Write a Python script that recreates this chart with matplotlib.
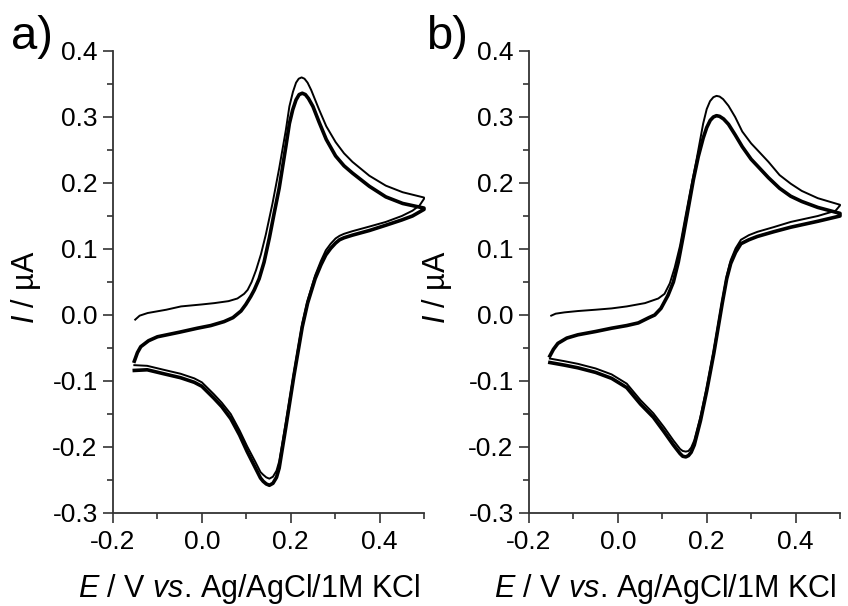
import matplotlib
matplotlib.use("Agg")
import matplotlib.pyplot as plt
import numpy as np
from matplotlib.ticker import MultipleLocator, FormatStrFormatter

plt.rcParams['font.family'] = ['Liberation Sans', 'DejaVu Sans']
plt.rcParams['mathtext.fontset'] = 'custom'
plt.rcParams['mathtext.rm'] = 'Liberation Sans'
plt.rcParams['mathtext.it'] = 'Liberation Sans:italic'
plt.rcParams['axes.unicode_minus'] = False

# ---- panel a) ----
# first cycle, forward scan (thin line)
a_E_fwd1 = [-0.150, -0.140, -0.122, -0.080, -0.047, 0.000, 0.028, 0.060, 0.080, 0.095,
            0.103, 0.112, 0.122, 0.133, 0.144, 0.159, 0.174, 0.189, 0.197, 0.205,
            0.212, 0.218, 0.2245, 0.231, 0.238, 0.246, 0.255, 0.264, 0.280, 0.301,
            0.320, 0.339, 0.377, 0.414, 0.452, 0.500]
a_I_fwd1 = [-0.007, -0.001, 0.003, 0.008, 0.013, 0.016, 0.018, 0.021, 0.025, 0.032,
            0.038, 0.050, 0.068, 0.092, 0.122, 0.169, 0.222, 0.280, 0.316, 0.338,
            0.352, 0.358, 0.360, 0.358, 0.352, 0.341, 0.326, 0.311, 0.286, 0.262,
            0.245, 0.232, 0.211, 0.196, 0.186, 0.178]
# first cycle, reverse scan
a_E_rev1 = [0.500, 0.490, 0.474, 0.450, 0.414, 0.377, 0.339, 0.320, 0.310, 0.301,
            0.290, 0.279, 0.268, 0.255, 0.238, 0.226, 0.207, 0.189, 0.174, 0.168,
            0.160, 0.152, 0.145, 0.138, 0.132, 0.120, 0.102, 0.085, 0.065, 0.045,
            0.027, 0.000, -0.017, -0.048, -0.086, -0.123, -0.152]
a_I_rev1 = [0.176, 0.166, 0.158, 0.150, 0.141, 0.134, 0.127, 0.123, 0.120, 0.116,
            0.108, 0.098, 0.082, 0.060, 0.022, -0.013, -0.088, -0.163, -0.222, -0.236,
            -0.245, -0.248, -0.246, -0.242, -0.238, -0.222, -0.199, -0.175, -0.150, -0.133,
            -0.120, -0.102, -0.096, -0.089, -0.083, -0.077, -0.076]
# following cycles, forward scan (thick line)
a_E_fwd2 = [-0.152, -0.145, -0.1375, -0.120, -0.100, -0.050, -0.010, 0.020, 0.050, 0.070,
            0.088, 0.099, 0.110, 0.118, 0.129, 0.140, 0.152, 0.163, 0.174, 0.189,
            0.197, 0.2045, 0.212, 0.219, 0.226, 0.233, 0.240, 0.250, 0.264, 0.280,
            0.301, 0.320, 0.339, 0.377, 0.414, 0.452, 0.500]
a_I_fwd2 = [-0.070, -0.057, -0.048, -0.039, -0.033, -0.026, -0.020, -0.016, -0.010, -0.004,
            0.006, 0.016, 0.028, 0.038, 0.055, 0.080, 0.117, 0.155, 0.192, 0.255,
            0.290, 0.311, 0.326, 0.334, 0.336, 0.334, 0.328, 0.316, 0.292, 0.266,
            0.241, 0.226, 0.215, 0.195, 0.179, 0.169, 0.162]
# following cycles, reverse scan
a_E_rev2 = [0.500, 0.474, 0.450, 0.414, 0.377, 0.339, 0.320, 0.310, 0.301, 0.290,
            0.279, 0.268, 0.255, 0.238, 0.226, 0.207, 0.189, 0.174, 0.168, 0.160,
            0.152, 0.145, 0.138, 0.132, 0.120, 0.102, 0.085, 0.065, 0.045, 0.027,
            0.000, -0.017, -0.048, -0.086, -0.123, -0.152]
a_I_rev2 = [0.160, 0.150, 0.144, 0.136, 0.128, 0.121, 0.117, 0.114, 0.109, 0.101,
            0.091, 0.076, 0.055, 0.018, -0.018, -0.093, -0.170, -0.232, -0.246, -0.255,
            -0.258, -0.256, -0.252, -0.247, -0.231, -0.207, -0.182, -0.157, -0.139, -0.126,
            -0.108, -0.102, -0.095, -0.089, -0.083, -0.084]

# ---- panel b) ----
b_E_fwd1 = [-0.150, -0.140, -0.120, -0.090, -0.050, -0.014, 0.020, 0.061, 0.091, 0.105,
            0.117, 0.128, 0.140, 0.151, 0.162, 0.177, 0.192, 0.200, 0.2075, 0.215,
            0.222, 0.229, 0.237, 0.249, 0.264, 0.280, 0.300, 0.314, 0.339, 0.364,
            0.389, 0.414, 0.450, 0.500]
b_I_fwd1 = [-0.001, 0.002, 0.004, 0.006, 0.008, 0.010, 0.013, 0.018, 0.025, 0.032,
            0.048, 0.072, 0.105, 0.145, 0.184, 0.235, 0.290, 0.312, 0.324, 0.330,
            0.332, 0.331, 0.327, 0.317, 0.300, 0.278, 0.260, 0.250, 0.232, 0.212,
            0.199, 0.188, 0.177, 0.167]
b_E_rev1 = [0.500, 0.490, 0.450, 0.389, 0.350, 0.314, 0.295, 0.277, 0.265, 0.254,
            0.245, 0.235, 0.216, 0.200, 0.186, 0.172, 0.165, 0.159, 0.153, 0.146,
            0.140, 0.125, 0.104, 0.080, 0.051, 0.020, -0.014, -0.050, -0.090, -0.120,
            -0.153]
b_I_rev1 = [0.166, 0.158, 0.150, 0.141, 0.133, 0.126, 0.121, 0.114, 0.101, 0.083,
            0.059, 0.022, -0.053, -0.110, -0.154, -0.190, -0.201, -0.206, -0.207, -0.206,
            -0.203, -0.190, -0.170, -0.149, -0.129, -0.104, -0.090, -0.081, -0.074, -0.070,
            -0.066]
b_E_fwd2 = [-0.153, -0.145, -0.135, -0.115, -0.090, -0.050, -0.014, 0.020, 0.046, 0.070,
            0.083, 0.097, 0.113, 0.125, 0.136, 0.147, 0.158, 0.170, 0.181, 0.192,
            0.200, 0.208, 0.215, 0.222, 0.229, 0.238, 0.249, 0.264, 0.280, 0.300,
            0.314, 0.339, 0.364, 0.389, 0.414, 0.450, 0.500]
b_I_fwd2 = [-0.062, -0.052, -0.043, -0.035, -0.030, -0.025, -0.020, -0.016, -0.012, -0.004,
            0.000, 0.010, 0.030, 0.050, 0.080, 0.119, 0.160, 0.205, 0.240, 0.268,
            0.284, 0.295, 0.300, 0.302, 0.301, 0.297, 0.289, 0.273, 0.255, 0.236,
            0.226, 0.208, 0.192, 0.180, 0.172, 0.163, 0.154]
b_E_rev2 = [0.500, 0.450, 0.389, 0.350, 0.314, 0.295, 0.277, 0.265, 0.254, 0.245,
            0.235, 0.216, 0.200, 0.186, 0.172, 0.165, 0.159, 0.153, 0.146, 0.140,
            0.125, 0.104, 0.080, 0.051, 0.020, -0.014, -0.050, -0.090, -0.120, -0.153]
b_I_rev2 = [0.150, 0.142, 0.133, 0.126, 0.119, 0.114, 0.108, 0.095, 0.078, 0.055,
            0.018, -0.058, -0.115, -0.160, -0.197, -0.208, -0.213, -0.215, -0.214, -0.210,
            -0.197, -0.177, -0.155, -0.135, -0.110, -0.096, -0.087, -0.080, -0.076, -0.072]

panels = [
    ('a)', a_E_fwd1, a_I_fwd1, a_E_rev1, a_I_rev1, a_E_fwd2, a_I_fwd2, a_E_rev2, a_I_rev2),
    ('b)', b_E_fwd1, b_I_fwd1, b_E_rev1, b_I_rev1, b_E_fwd2, b_I_fwd2, b_E_rev2, b_I_rev2),
]

W, H = 848, 606
fig = plt.figure(figsize=(W / 100, H / 100), dpi=100)

ax_left = [113, 529]
ax_right = [424, 840]
ax_top, ax_bot = 51, 513
ylab_x = [26, 437]
xlab_x = [249, 665]
tag_x = [11, 426]

for k, (tag, e1, i1, er1, ir1, e2, i2, er2, ir2) in enumerate(panels):
    ax = fig.add_axes([ax_left[k] / W, 1 - ax_bot / H,
                       (ax_right[k] - ax_left[k]) / W, (ax_bot - ax_top) / H])
    # first cycle
    ax.plot(np.concatenate([e1, er1]), np.concatenate([i1, ir1]),
            color='black', lw=1.4, solid_joinstyle='round', clip_on=False)
    # later cycles
    ax.plot(np.concatenate([e2, er2]), np.concatenate([i2, ir2]),
            color='black', lw=2.6, solid_joinstyle='round', clip_on=False)

    ax.set_xlim(-0.2, 0.5)
    ax.set_ylim(-0.3, 0.4)
    ax.xaxis.set_major_locator(MultipleLocator(0.2))
    ax.xaxis.set_minor_locator(MultipleLocator(0.1))
    ax.yaxis.set_major_locator(MultipleLocator(0.1))
    ax.yaxis.set_minor_locator(MultipleLocator(0.05))
    ax.xaxis.set_major_formatter(FormatStrFormatter('%.1f'))
    ax.yaxis.set_major_formatter(FormatStrFormatter('%.1f'))
    for s in ['top', 'right']:
        ax.spines[s].set_visible(False)
    for s in ['left', 'bottom']:
        ax.spines[s].set_linewidth(1.3)
        ax.spines[s].set_color('#333333')
    ax.tick_params(which='major', direction='out', length=7, width=1.2,
                   color='#333333', labelsize=19)
    ax.tick_params(axis='y', which='major', pad=4)
    ax.tick_params(axis='x', which='major', pad=5)
    ax.tick_params(which='minor', direction='out', length=4, width=1.2, color='#333333')

    fig.text(ylab_x[k] / W, 1 - 287 / H, r'$\mathit{I}$ / µA', rotation=90,
             ha='center', va='center', fontsize=22)
    fig.text(xlab_x[k] / W, 1 - 597 / H,
             r'$\mathit{E}$ / V $\mathit{vs}$. Ag/AgCl/1M KCl',
             ha='center', va='baseline', fontsize=22)
    fig.text(tag_x[k] / W, 1 - 49 / H, tag, ha='left', va='baseline', fontsize=34)

fig.savefig('out.png', dpi=100)
